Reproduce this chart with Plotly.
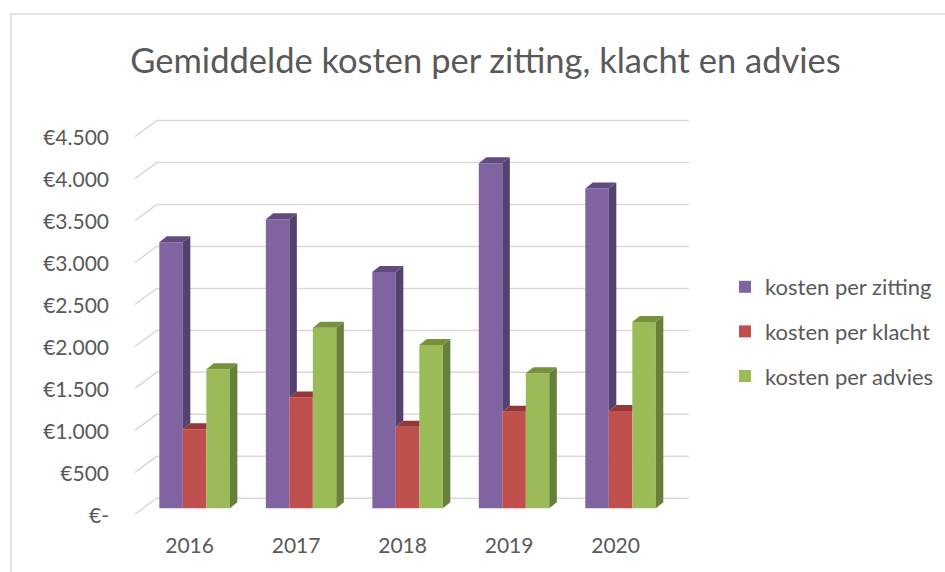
import plotly.graph_objects as go

# ---------------- data ----------------
years = ["2016", "2017", "2018", "2019", "2020"]
series_names = ["kosten per zitting", "kosten per klacht", "kosten per advies"]
kosten_zitting = [3170, 3445, 2815, 4110, 3810]
kosten_klacht = [940, 1320, 970, 1150, 1160]
kosten_advies = [1655, 2150, 1945, 1610, 2220]
y_tickvals = [0, 500, 1000, 1500, 2000, 2500, 3000, 3500, 4000, 4500]
y_ticktext = ["€-", "€500", "€1.000", "€1.500", "€2.000", "€2.500",
              "€3.000", "€3.500", "€4.000", "€4.500"]

series_values = [kosten_zitting, kosten_klacht, kosten_advies]

# ---------------- style ----------------
front_colors = ["#8064A2", "#C0504D", "#9BBB59"]
side_colors = ["#534170", "#8C3836", "#66803A"]
top_colors = ["#604A7E", "#953735", "#76923C"]
text_color = "#595959"
grid_color = "#D9D9D9"
FONT = "Lato"

W, H = 945, 572
ML, MR, MT, MB = 134, 255, 115, 52
XR = [-0.569, 4.652]
YR = [-140, 4686]
plot_w = W - ML - MR
plot_h = H - MT - MB
px_x = plot_w / (XR[1] - XR[0])
px_y = plot_h / (YR[1] - YR[0])

bw = 23.5 / px_x          # bar width in x units
dx = 7.5 / px_x           # depth offset (x)
dy = 6.0 / px_y           # depth offset (y)

grid_front_x = XR[0] + (135 - ML) / px_x
grid_back_x = XR[0] + (156.7 - ML) / px_x
grid_right_x = XR[0] + (689 - ML) / px_x
grid_front_off = -6.0 / px_y
grid_back_off = 10.0 / px_y

fig = go.Figure()

n_series = len(series_values)
bar_x = [[k + (i - (n_series - 1) / 2) * bw for k in range(len(years))]
         for i in range(n_series)]

# front faces (bars)
for i in range(n_series):
    fig.add_trace(go.Bar(
        x=bar_x[i], y=series_values[i], width=bw, name=series_names[i],
        marker=dict(color=front_colors[i], line=dict(width=0)),
        legendgroup=series_names[i],
        customdata=years, hovertemplate="%{customdata}: €%{y}<extra>" + series_names[i] + "</extra>",
    ))

# side and top faces
for i in range(n_series):
    sx, sy, tx, ty = [], [], [], []
    for k in range(len(years)):
        v = series_values[i][k]
        x0 = bar_x[i][k] - bw / 2
        x1 = bar_x[i][k] + bw / 2
        vn = series_values[i + 1][k] if i + 1 < n_series else None
        # side face
        if vn is None:
            sx += [x1, x1, x1 + dx, x1 + dx, x1, None]
            sy += [0, v, v + dy, dy, 0, None]
        elif vn < v:
            sx += [x1, x1, x1 + dx, x1 + dx, x1, None]
            sy += [vn, v, v + dy, vn + dy, vn, None]
        # top face
        if vn is None or vn <= v:
            tx += [x0, x1, x1 + dx, x0 + dx, x0, None]
            ty += [v, v, v + dy, v + dy, v, None]
        else:
            tx += [x0, x1, x1, x0 + dx, x0, None]
            ty += [v, v, v + dy, v + dy, v, None]
    for xs, ys, col in ((sx, sy, side_colors[i]), (tx, ty, top_colors[i])):
        if xs:
            fig.add_trace(go.Scatter(
                x=xs, y=ys, mode="lines", fill="toself", fillcolor=col,
                line=dict(width=0, color=col), showlegend=False,
                hoverinfo="skip", legendgroup=series_names[i],
            ))

# gridlines (3D look: front diagonal + back wall line), below bars
for v in y_tickvals:
    fig.add_shape(
        type="path", xref="x", yref="y", layer="below",
        path=(f"M {grid_front_x},{v + grid_front_off} "
              f"L {grid_back_x},{v + grid_back_off} "
              f"L {grid_right_x},{v + grid_back_off}"),
        line=dict(color=grid_color, width=1.5),
    )

# chart border (left and top visible)
bx0 = (11 - ML) / plot_w
by1 = (H - MB - 14) / plot_h
fig.add_shape(
    type="path", xref="paper", yref="paper", layer="below",
    path=f"M {bx0},-1 L {bx0},{by1} L 2,{by1}",
    line=dict(color="#D9D9D9", width=1.5),
)

fig.update_layout(
    width=W, height=H,
    margin=dict(l=ML, r=MR, t=MT, b=MB, autoexpand=False),
    paper_bgcolor="white", plot_bgcolor="white",
    barmode="overlay",
    font=dict(family=FONT, color=text_color),
    title=dict(text="Gemiddelde kosten per zitting, klacht en advies",
               xref="container", yref="container",
               x=485.5 / W, xanchor="center", y=1 - 61 / H, yanchor="middle",
               font=dict(size=34.5, color=text_color, family=FONT)),
    xaxis=dict(range=XR, tickvals=list(range(len(years))), ticktext=years,
               showgrid=False, zeroline=False, showline=False, ticks="",
               tickfont=dict(size=21, color=text_color),
               ticklabelshift=-5, ticklabelstandoff=11, fixedrange=True),
    yaxis=dict(range=YR, tickvals=y_tickvals, ticktext=y_ticktext,
               showgrid=False, zeroline=False, showline=False, ticks="",
               tickfont=dict(size=21, color=text_color),
               ticklabelshift=7, ticklabelstandoff=24, fixedrange=True),
    legend=dict(x=(725 - ML) / plot_w, xanchor="left",
                y=(H - MB - 266) / plot_h, yanchor="top",
                font=dict(size=22, color=text_color),
                tracegroupgap=13, bgcolor="rgba(0,0,0,0)"),
    showlegend=True,
)

fig.write_html("out.html")
